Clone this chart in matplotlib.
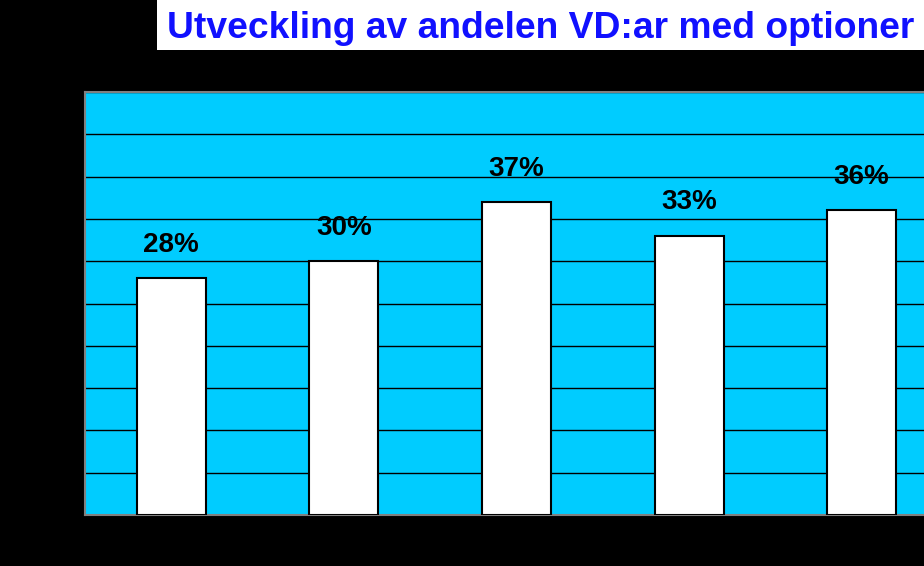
import numpy as np
import matplotlib
matplotlib.use('Agg')
import matplotlib.pyplot as plt

# data
categories = ['1', '2', '3', '4', '5']  # axis labels not visible in the original
shares = [28, 30, 37, 33, 36]
labels = ['28%', '30%', '37%', '33%', '36%']
y_ticks = np.arange(0, 55, 5)

plt.rcParams['font.family'] = ['Liberation Sans', 'DejaVu Sans']

fig = plt.figure(figsize=(9.24, 5.66), dpi=100, facecolor='black')
ax = fig.add_axes([85 / 924, 1 - 515 / 566, 5 * 172.6 / 924, 423 / 566])
ax.set_facecolor('#00CCFF')

x = np.arange(len(categories))
ax.bar(x, shares, width=0.4, color='white', edgecolor='black', linewidth=1.5, zorder=3)

# value labels above bars
for xi, v, lab in zip(x, shares, labels):
    ax.annotate(lab, xy=(xi, v), xytext=(0, 19), textcoords='offset points',
                ha='center', va='baseline', fontsize=20, fontweight='bold',
                color='black', zorder=4)

ax.set_xlim(-0.5, len(categories) - 0.5)
ax.set_ylim(0, 50)
ax.set_yticks(y_ticks)
ax.yaxis.grid(True, color='black', linewidth=1.0, zorder=0)
ax.set_axisbelow(True)
ax.set_xticks(np.arange(len(categories) + 1) - 0.5)
ax.tick_params(axis='x', length=4, color='black', labelbottom=False)
ax.tick_params(axis='y', length=0, labelleft=False)
for side in ['top', 'left', 'bottom']:
    ax.spines[side].set_color('#808080')
    ax.spines[side].set_linewidth(1.5)
ax.spines['right'].set_visible(False)

# title in a white box at the top right
fig.patches.append(plt.Rectangle((157 / 924, 1 - 50 / 566), 1, 50 / 566,
                                 transform=fig.transFigure, facecolor='white',
                                 edgecolor='none'))
fig.text(541 / 924, 1 - 38 / 566, 'Utveckling av andelen VD:ar med optioner',
         ha='center', va='baseline', fontsize=26.8, fontweight='bold', color='#1010FF')

fig.savefig('out.png', dpi=100, facecolor='black')
